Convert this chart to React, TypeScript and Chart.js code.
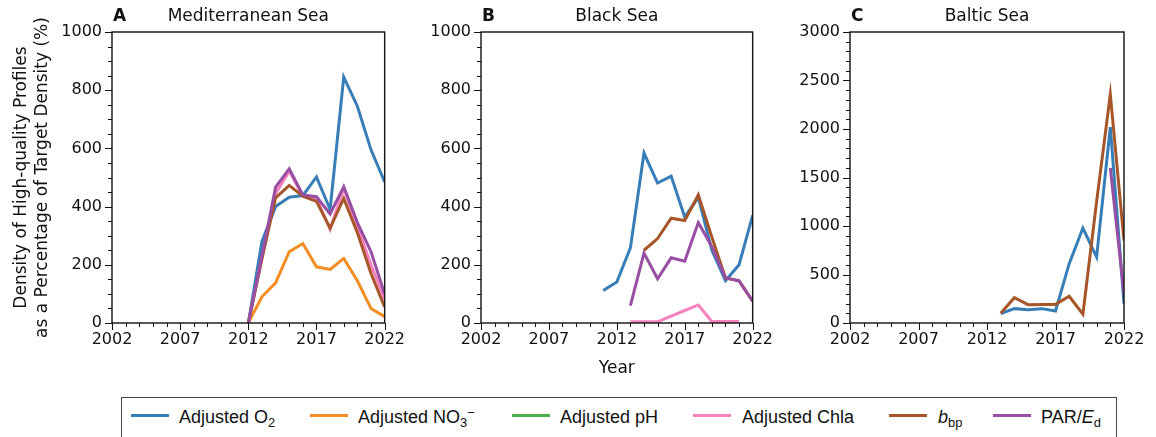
import React, { useEffect, useRef } from 'react';
import { Chart, registerables } from 'chart.js';

Chart.register(...registerables);

// ---------- data ----------
const dataYears = [2011, 2012, 2013, 2014, 2015, 2016, 2017, 2018, 2019, 2020, 2021, 2022];

const medO2 = [null, 0, 280, 400, 432, 438, 502, 390, 845, 745, 595, 485];
const medNO3 = [null, 0, 90, 138, 245, 273, 193, 184, 222, 145, 50, 22];
const medPH: (number | null)[] = [null, null, null, null, null, null, null, null, null, null, null, null];
const medChla = [null, 0, 225, 445, 522, 436, 428, 322, 462, 332, 200, 80];
const medBbp = [null, 0, 220, 430, 473, 436, 418, 326, 428, 310, 170, 55];
const medPar = [null, 0, 230, 467, 530, 440, 434, 375, 468, 345, 245, 100];

const bsO2 = [112, 141, 258, 584, 481, 505, 364, 432, 250, 145, 200, 370];
const bsNO3: (number | null)[] = [null, null, null, null, null, null, null, null, null, null, null, null];
const bsPH: (number | null)[] = [null, null, null, null, null, null, null, null, null, null, null, null];
const bsChla = [null, null, 4, 4, 4, 24, 43, 62, 5, 5, 5, null];
const bsBbp = [null, null, null, 250, 290, 360, 352, 440, 295, 155, 145, 75];
const bsPar = [null, null, 60, 240, 152, 224, 212, 345, 262, 155, 145, 75];

const blO2 = [null, null, 96, 148, 137, 148, 124, 612, 979, 680, 2020, 200];
const blNO3: (number | null)[] = [null, null, null, null, null, null, null, null, null, null, null, null];
const blPH: (number | null)[] = [null, null, null, null, null, null, null, null, null, null, null, null];
const blChla: (number | null)[] = [null, null, null, null, null, null, null, null, null, null, null, null];
const blBbp = [null, null, 100, 261, 189, 192, 192, 275, 90, 1250, 2357, 850];
const blPar = [null, null, null, null, null, null, null, null, null, null, 1600, 300];

const seriesNames = ['Adjusted O2', 'Adjusted NO3-', 'Adjusted pH', 'Adjusted Chla', 'bbp', 'PAR/Ed'];
const seriesColors = ['#377eb8', '#f28e22', '#4daf4a', '#f781bf', '#a65628', '#984ea3'];

const xTickYears = [2002, 2007, 2012, 2017, 2022];

const FONT = "'DejaVu Sans', sans-serif";

type Panel = {
  letter: string;
  name: string;
  series: (number | null)[][];
  yMax: number;
  yMajor: number;
  yMinor: number;
  left: number;
  width: number;
  height: number;
  plotLeft: number;
  plotRight: number;
  yAxisTitle: string[] | null;
  xAxisTitle: string | null;
};

const PLOT_TOP = 32;
const PLOT_BOTTOM = 323;

const panels: Panel[] = [
  {
    letter: 'A', name: 'Mediterranean Sea',
    series: [medO2, medNO3, medPH, medChla, medBbp, medPar],
    yMax: 1000, yMajor: 200, yMinor: 50,
    left: 0, width: 412, height: 345, plotLeft: 112, plotRight: 387,
    yAxisTitle: ['Density of High-quality Profiles', 'as a Percentage of Target Density (%)'],
    xAxisTitle: null,
  },
  {
    letter: 'B', name: 'Black Sea',
    series: [bsO2, bsNO3, bsPH, bsChla, bsBbp, bsPar],
    yMax: 1000, yMajor: 200, yMinor: 50,
    left: 421, width: 359, height: 387, plotLeft: 481, plotRight: 755,
    yAxisTitle: null,
    xAxisTitle: 'Year',
  },
  {
    letter: 'C', name: 'Baltic Sea',
    series: [blO2, blNO3, blPH, blChla, blBbp, blPar],
    yMax: 3000, yMajor: 500, yMinor: 100,
    left: 790, width: 366, height: 345, plotLeft: 850, plotRight: 1124,
    yAxisTitle: null,
    xAxisTitle: null,
  },
];

const framePlugin = {
  id: 'frameTicks',
  afterDraw(chart: any, _args: any, opts: any) {
    const { ctx, chartArea: ca, scales } = chart;
    const xs = scales.x;
    const ys = scales.y;
    ctx.save();
    ctx.strokeStyle = '#111';
    ctx.lineWidth = 1;
    for (let yr = xs.min; yr <= xs.max; yr++) {
      const px = Math.round(xs.getPixelForValue(yr)) + 0.5;
      const len = (yr - 2002) % 5 === 0 ? 7 : 4;
      ctx.beginPath();
      ctx.moveTo(px, ca.bottom);
      ctx.lineTo(px, ca.bottom + len);
      ctx.stroke();
    }
    for (let v = ys.min; v <= ys.max; v += opts.minor) {
      const py = Math.round(ys.getPixelForValue(v)) + 0.5;
      const len = v % opts.major === 0 ? 7 : 4;
      ctx.beginPath();
      ctx.moveTo(ca.left - len, py);
      ctx.lineTo(ca.left, py);
      ctx.stroke();
    }
    ctx.lineWidth = 1.4;
    ctx.strokeRect(ca.left, ca.top, ca.right - ca.left, ca.bottom - ca.top);
    ctx.fillStyle = '#111';
    ctx.textBaseline = 'middle';
    ctx.textAlign = 'left';
    ctx.font = `bold 17px ${FONT}`;
    ctx.fillText(opts.letter, ca.left + 1, 17);
    ctx.textAlign = 'center';
    ctx.font = `17px ${FONT}`;
    ctx.fillText(opts.name, (ca.left + ca.right) / 2, 17);
    ctx.restore();
  },
};

function PanelChart({ p }: { p: Panel }) {
  const ref = useRef<HTMLCanvasElement | null>(null);
  useEffect(() => {
    if (!ref.current) return;
    const yWidth = p.plotLeft - p.left;
    const padRight = p.left + p.width - p.plotRight;
    const xHeight = p.height - PLOT_BOTTOM;
    const order = [5, 4, 3, 2, 1, 0];
    const datasets = p.series.map((vals, i) => ({
      label: seriesNames[i],
      data: dataYears.map((yr, k) => ({ x: yr, y: vals[k] })),
      borderColor: seriesColors[i],
      backgroundColor: seriesColors[i],
      borderWidth: 3,
      pointRadius: 0,
      fill: false,
      tension: 0,
      spanGaps: false,
      order: order[i],
    }));
    const chart = new Chart(ref.current, {
      type: 'line',
      data: { datasets },
      plugins: [framePlugin],
      options: {
        animation: false,
        responsive: false,
        maintainAspectRatio: false,
        layout: { padding: { top: PLOT_TOP, right: padRight, left: 0, bottom: 0 } },
        plugins: {
          legend: { display: false },
          tooltip: { enabled: false },
          title: { display: false },
          frameTicks: { letter: p.letter, name: p.name, major: p.yMajor, minor: p.yMinor },
        } as any,
        scales: {
          x: {
            type: 'linear',
            min: 2002,
            max: 2022,
            grid: { display: false, drawTicks: false },
            border: { display: false },
            afterFit: (s: any) => { s.height = xHeight; },
            afterBuildTicks: (s: any) => { s.ticks = xTickYears.map((v) => ({ value: v })); },
            ticks: {
              autoSkip: false,
              maxRotation: 0,
              padding: 7,
              color: '#111',
              font: { family: FONT, size: 16 },
              callback: (v: any) => String(v),
            },
            title: p.xAxisTitle
              ? {
                  display: true,
                  text: p.xAxisTitle,
                  color: '#111',
                  font: { family: FONT, size: 17, lineHeight: 1.2 },
                  padding: { top: 0, bottom: 8 },
                }
              : { display: false },
          },
          y: {
            type: 'linear',
            min: 0,
            max: p.yMax,
            grid: { display: false, drawTicks: false },
            border: { display: false },
            afterFit: (s: any) => { s.width = yWidth; },
            ticks: {
              autoSkip: false,
              stepSize: p.yMajor,
              padding: 10,
              color: '#111',
              font: { family: FONT, size: 16 },
              callback: (v: any) => String(v),
            },
            title: p.yAxisTitle
              ? {
                  display: true,
                  text: p.yAxisTitle,
                  color: '#111',
                  font: { family: FONT, size: 17, lineHeight: 1.235 },
                  padding: { top: 11, bottom: 0 },
                }
              : { display: false },
          },
        },
      } as any,
    });
    return () => chart.destroy();
  }, [p]);
  return (
    <canvas
      ref={ref}
      width={p.width}
      height={p.height}
      style={{ position: 'absolute', left: p.left, top: 0, width: p.width, height: p.height }}
    />
  );
}

const subStyle: React.CSSProperties = { fontSize: '0.72em', verticalAlign: '-0.28em', lineHeight: 0 };
const supStyle: React.CSSProperties = { fontSize: '0.72em', verticalAlign: '0.45em', lineHeight: 0 };

const legendLabels: React.ReactNode[] = [
  <>Adjusted O<span style={subStyle}>2</span></>,
  <>Adjusted NO<span style={subStyle}>3</span><span style={supStyle}>−</span></>,
  <>Adjusted pH</>,
  <>Adjusted Chla</>,
  <><i>b</i><span style={subStyle}>bp</span></>,
  <>PAR/<i>E</i><span style={subStyle}>d</span></>,
];
const legendSampleX = [131, 310, 512, 693, 889, 993];
const legendTextX = [179, 358, 560, 742, 938, 1041];

export default function App() {
  return (
    <div style={{ position: 'fixed', left: 0, top: 0, width: 1156, height: 437, background: '#fff', overflow: 'hidden' }}>
      {panels.map((p) => (
        <PanelChart key={p.letter} p={p} />
      ))}
      <div
        style={{
          position: 'absolute', left: 121, top: 397, width: 996, height: 60,
          border: '1px solid #444', boxSizing: 'border-box',
        }}
      />
      {seriesNames.map((n, i) => (
        <React.Fragment key={n}>
          <div style={{ position: 'absolute', left: legendSampleX[i], top: 414, width: 38, height: 3, background: seriesColors[i] }} />
          <div
            style={{
              position: 'absolute', left: legendTextX[i], top: 405, height: 24, lineHeight: '24px',
              fontFamily: "'Liberation Sans', Arial, sans-serif", fontSize: 18, color: '#111', whiteSpace: 'nowrap',
            }}
          >
            {legendLabels[i]}
          </div>
        </React.Fragment>
      ))}
    </div>
  );
}
